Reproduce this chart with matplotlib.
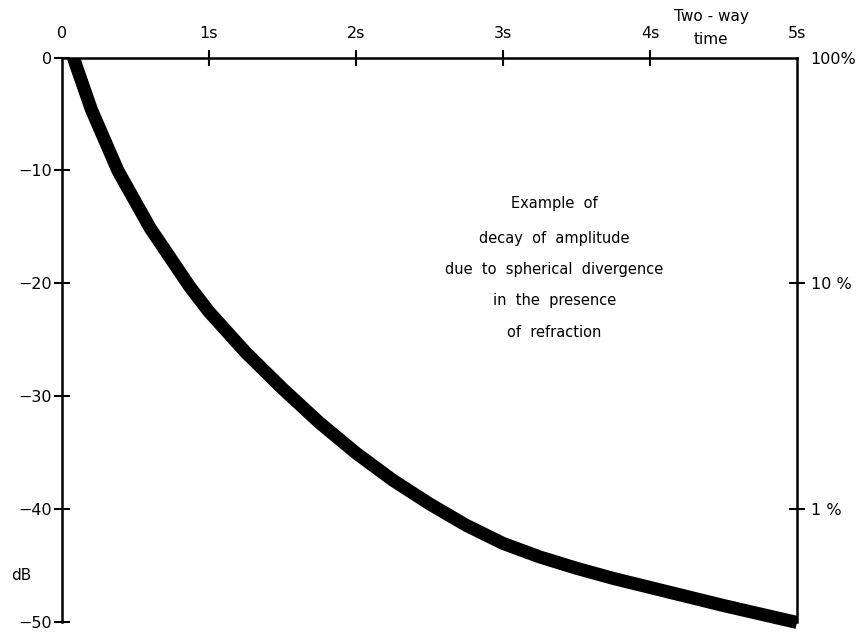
import numpy as np
import matplotlib
matplotlib.use("Agg")
import matplotlib.pyplot as plt

# amplitude decay (two-way time in s, level in dB)
time_s = [0.077, 0.2, 0.38, 0.6, 0.87, 1.0, 1.25, 1.5, 1.75, 2.0, 2.25,
          2.5, 2.75, 3.0, 3.25, 3.5, 3.75, 4.0, 4.25, 4.5, 4.75, 5.0]
level_db = [0.0, -4.6, -10.0, -15.1, -20.3, -22.5, -26.1, -29.3, -32.3,
            -35.0, -37.4, -39.5, -41.4, -43.0, -44.2, -45.2, -46.1, -46.9,
            -47.7, -48.5, -49.25, -50.0]

x_ticks = [0, 1, 2, 3, 4, 5]
x_labels = ["0", "1s", "2s", "3s", "4s", "5s"]
db_ticks = [0, -10, -20, -30, -40, -50]
db_labels = ["0", "\u221210", "\u221220", "\u221230", "\u221240", "\u221250"]
pct_ticks = [100, 10, 1]
pct_labels = ["100%", "10 %", "1 %"]

note_lines = ["Example  of", "decay  of  amplitude",
              "due  to  spherical  divergence", "in  the  presence",
              "of  refraction"]
note_y = [-12.9, -16.0, -18.8, -21.5, -24.3]

plt.rcParams['font.family'] = ['DejaVu Sans']

fig = plt.figure(figsize=(8.68, 6.34), dpi=100)
ax = fig.add_axes([0.0714, 0.0057, 0.8468, 0.9036])
ax.set_xlim(0, 5)
ax.set_ylim(-50.7, 0)

ax.plot(time_s, level_db, color='black', lw=9.4,
        solid_capstyle='butt', solid_joinstyle='round')

# frame: top, left and right lines only
ax.spines['bottom'].set_visible(False)
ax.spines['right'].set_visible(False)
ax.spines['left'].set_bounds(-50, 0)
for s in ('top', 'left'):
    ax.spines[s].set_linewidth(1.8)

ax.xaxis.tick_top()
ax.set_xticks(x_ticks)
ax.set_xticklabels(x_labels)
ax.tick_params(axis='x', direction='inout', length=11, width=1.5,
               pad=6.5, labelsize=11.5)
ax.set_yticks(db_ticks)
ax.set_yticklabels(db_labels)
ax.tick_params(axis='y', direction='inout', length=11, width=1.5,
               pad=1.7, labelsize=11.5)

xt = ax.xaxis.get_major_ticks()
xt[0].tick2line.set_visible(False)
xt[-1].tick2line.set_visible(False)
ax.yaxis.get_major_ticks()[0].tick1line.set_visible(False)

# right-hand scale as amplitude percentage
ax2 = ax.twinx()
ax2.set_ylim(ax.get_ylim())
for s in ('top', 'bottom', 'left'):
    ax2.spines[s].set_visible(False)
ax2.spines['right'].set_bounds(-50, 0)
ax2.spines['right'].set_linewidth(1.8)
ax2.set_yticks([20 * np.log10(p / 100) for p in pct_ticks])
ax2.set_yticklabels(pct_labels)
ax2.tick_params(axis='y', direction='inout', length=11, width=1.5,
                pad=4.4, labelsize=11.5)
ax2.yaxis.get_major_ticks()[0].tick2line.set_visible(False)

ax.text(4.415, 3.6, "Two - way", ha='center', va='center',
        fontsize=11, clip_on=False)
ax.text(4.415, 1.55, "time", ha='center', va='center',
        fontsize=11, clip_on=False)
ax.text(-0.28, -45.8, "dB", ha='center', va='center',
        fontsize=11, clip_on=False)

for line, y in zip(note_lines, note_y):
    ax.text(3.35, y, line, ha='center', va='center', fontsize=10.5)

fig.savefig("out.png", dpi=100)
